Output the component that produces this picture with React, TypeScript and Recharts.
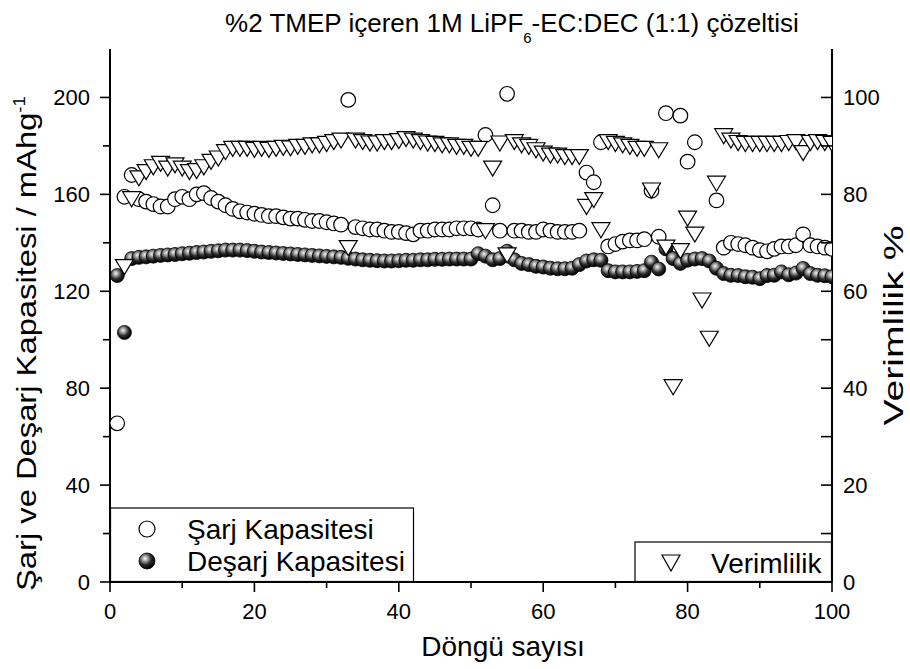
import React from 'react';
import { ComposedChart, Scatter, XAxis, YAxis, Legend, Label } from 'recharts';

const FONT = '"Liberation Sans", Arial, Helvetica, sans-serif';

// Cycle-by-cycle values (cycle 1..100). null = off the plotted range.
const chargeCapacity: (number | null)[] = [
  65.5, 159, 168, 158, 157, 156, 155, 155, 158, 159,
  158, 160, 160.5, 158.5, 157, 155.5, 154, 153, 152.5, 152,
  151.5, 151, 151, 150.5, 150, 150, 149.5, 149, 149, 148.5,
  148, 147.5, 199, 146.5, 146, 145.5, 145.5, 145, 144.5, 144.5,
  144, 143.5, 145, 145, 145.5, 145.5, 145.5, 146, 146, 146,
  145.5, 184.5, 155.5, 145, 201.5, 145, 145, 144.5, 144.5, 145.5,
  145, 144.5, 144.5, 144.5, 145, 169, 165, 181.5, 138.5, 139.5,
  140.5, 141, 141, 141.5, 161.5, 142.5, 193.5, null, 192.5, 173.5,
  181.5, null, null, 157.5, 138, 140, 139.5, 139, 138, 137,
  136.5, 137.5, 138.5, 138.5, 139, 143.5, 139, 138.5, 138, 137.5,
];

const dischargeCapacity: (number | null)[] = [
  126.5, 103, 133.5, 134, 134.2, 134.5, 134.8, 135, 135.2, 135.5,
  135.7, 136, 136.2, 136.5, 136.7, 137, 137, 137, 136.8, 136.5,
  136.2, 136, 135.8, 135.6, 135.4, 135.2, 135, 134.8, 134.6, 134.4,
  134.2, 134, 133.6, 133.3, 133, 132.8, 132.6, 132.5, 132.5, 132.6,
  132.8, 132.8, 133, 133, 133.2, 133.2, 133.3, 133.3, 133.3, 133.3,
  135.5, 134.5, 133, 133.5, 136.5, 133, 131.5, 131, 130.3, 130,
  129.5, 129.3, 129.3, 129.5, 131, 132.5, 133, 132.8, 128.5, 128,
  128, 128, 128.2, 128.5, 132, 129.2, 137.5, 133.5, 131.5, 132.8,
  133.3, 133.5, 132.5, 129.5, 127.3, 126.6, 126.5, 126, 125.8, 125.2,
  126.5, 126.6, 128, 126.8, 127.5, 129.4, 127.3, 126.6, 126.4, 126,
];

const efficiency: (number | null)[] = [
  null, 65, 79, 83.3, 84.6, 85.6, 86.3, 85.3, 86, 85.3,
  84.6, 84.8, 85.6, 86.7, 87.4, 88.7, 89.4, 89.4, 89.4, 89.2,
  89.4, 89.2, 89.4, 89.6, 89.5, 89.8, 89.8, 90.1, 90.1, 90.4,
  90.8, 91.1, 68.9, 91.1, 90.8, 90.5, 90.5, 90.8, 90.8, 91,
  91.4, 91.1, 90.8, 90.5, 90.4, 90.1, 90.1, 89.8, 89.8, 89.4,
  89.4, 72.4, 85.3, 90.5, 67.4, 90.8, 90.1, 89.8, 89.1, 88.4,
  88, 88, 87.7, 87.7, 87.7, 77.4, 78.8, 72.6, 90.8, 90.4,
  90.1, 89.8, 89.4, 89.4, 80.8, 89.1, 69, 40.2, 68.3, 75,
  71.7, 58.1, 50.2, 82.2, 92, 91.1, 90.6, 90.4, 90.4, 90.4,
  90.4, 90.4, 90.4, 90.6, 90.8, 88.5, 90.6, 90.8, 90.6, 90.4,
];

const xTicks = [0, 10, 20, 30, 40, 50, 60, 70, 80, 90, 100];
const leftTicks = [0, 20, 40, 60, 80, 100, 120, 140, 160, 180, 200];
const rightTicks = [0, 10, 20, 30, 40, 50, 60, 70, 80, 90, 100];

const SERIES_CHARGE = 'Şarj Kapasitesi';
const SERIES_DISCHARGE = 'Deşarj Kapasitesi';
const SERIES_EFF = 'Verimlilik';
const LEFT_LEGEND_ORDER = [SERIES_CHARGE, SERIES_DISCHARGE];

const TITLE_MAIN = '%2 TMEP içeren 1M LiPF';
const TITLE_SUB = '6';
const TITLE_REST = '-EC:DEC (1:1) çözeltisi';

const toPoints = (arr: (number | null)[]) =>
  arr.map((v, i) => ({ cycle: i + 1, value: v })).filter((p) => p.value !== null);

const chargeData = toPoints(chargeCapacity);
const dischargeData = toPoints(dischargeCapacity);
const effData = toPoints(efficiency);

const CircleShape = (p: any) => (
  <circle cx={p.cx} cy={p.cy} r={7.3} fill="#fff" stroke="#000" strokeWidth={1.2} />
);
const SphereShape = (p: any) => (
  <circle cx={p.cx} cy={p.cy} r={7} fill="url(#sphereGrad)" stroke="#000" strokeWidth={0.8} />
);
const TriangleShape = (p: any) => (
  <polygon
    points={`${p.cx - 9},${p.cy - 7.5} ${p.cx + 9},${p.cy - 7.5} ${p.cx},${p.cy + 7.5}`}
    fill="#fff"
    stroke="#000"
    strokeWidth={1.2}
  />
);

const tickText = { fontSize: 22, fontFamily: FONT, fill: '#000' };

const BottomTick = (props: any) => {
  const { x, y, payload } = props;
  const major = payload.value % 20 === 0;
  return (
    <g>
      <line x1={x} x2={x} y1={y} y2={y + (major ? 10 : 6)} stroke="#000" strokeWidth={1.6} />
      {major && (
        <text x={x} y={y + 37} textAnchor="middle" {...tickText}>
          {payload.value}
        </text>
      )}
    </g>
  );
};

const LeftTick = (props: any) => {
  const { x, y, payload } = props;
  const major = payload.value % 40 === 0;
  return (
    <g>
      <line x1={x} x2={x - (major ? 10 : 7)} y1={y} y2={y} stroke="#000" strokeWidth={1.6} />
      {major && (
        <text x={x - 20} y={y + 8} textAnchor="end" {...tickText}>
          {payload.value}
        </text>
      )}
    </g>
  );
};

const RightTick = (props: any) => {
  const { x, y, payload } = props;
  const major = payload.value % 20 === 0;
  return (
    <g>
      <line x1={x} x2={x - 11} y1={y} y2={y} stroke="#000" strokeWidth={1.6} />
      {major && (
        <text x={x + 11} y={y + 8} textAnchor="start" {...tickText}>
          {payload.value}
        </text>
      )}
    </g>
  );
};

const XTitle = (props: any) => {
  const vb = props.viewBox || { x: 110, y: 582, width: 722 };
  const cx = vb.x + vb.width / 2 + 32;
  return (
    <text x={cx} y={vb.y + 74} textAnchor="middle" fontSize={28} fontFamily={FONT} fill="#000">
      Döngü sayısı
    </text>
  );
};

const LeftTitle = (props: any) => {
  const vb = props.viewBox || { x: 0, y: 49, width: 110, height: 533 };
  const cx = vb.x + 36;
  const cy = vb.y + vb.height / 2 + 28;
  return (
    <text
      x={cx}
      y={cy}
      transform={`rotate(-90 ${cx} ${cy})`}
      textAnchor="middle"
      fontSize={28}
      fontFamily={FONT}
      fill="#000"
      textLength={495}
      lengthAdjust="spacingAndGlyphs"
    >
      <tspan>Şarj ve Deşarj Kapasitesi / mAhg</tspan>
      <tspan fontSize={16} dy={-11}>-1</tspan>
    </text>
  );
};

const RightTitle = (props: any) => {
  const vb = props.viewBox || { x: 832, y: 49, width: 78, height: 533 };
  const cx = vb.x + 71;
  const cy = vb.y + vb.height / 2 + 10;
  return (
    <text
      x={cx}
      y={cy}
      transform={`rotate(-90 ${cx} ${cy})`}
      textAnchor="middle"
      fontSize={28}
      fontFamily={FONT}
      fill="#000"
      textLength={200}
      lengthAdjust="spacingAndGlyphs"
    >
      Verimlilik %
    </text>
  );
};

const LegendSymbol = ({ name, cx, cy }: { name: string; cx: number; cy: number }) => {
  if (name === SERIES_CHARGE) {
    return <circle cx={cx} cy={cy} r={8} fill="#fff" stroke="#000" strokeWidth={1.2} />;
  }
  if (name === SERIES_DISCHARGE) {
    return <circle cx={cx} cy={cy} r={8} fill="url(#legendSphere)" stroke="#000" strokeWidth={0.8} />;
  }
  return (
    <polygon
      points={`${cx - 9},${cy - 8} ${cx + 9},${cy - 8} ${cx},${cy + 8}`}
      fill="#fff"
      stroke="#000"
      strokeWidth={1.2}
    />
  );
};

const LegendContent = (props: any) => {
  const payload: any[] = props.payload || [];
  const names = payload.map((p) => String(p.value));
  const leftNames = LEFT_LEGEND_ORDER.filter((n) => names.includes(n));
  const rightNames = names.filter((n) => n === SERIES_EFF);
  const rowY = [529, 561];
  const textStyle = { fontSize: 28, fontFamily: FONT, fill: '#000' } as const;
  return (
    <svg width={910} height={669} style={{ position: 'absolute', left: 0, top: 0, pointerEvents: 'none' }}>
      <defs>
        <radialGradient id="legendSphere" cx="0.38" cy="0.35" r="0.65">
          <stop offset="0%" stopColor="#ffffff" />
          <stop offset="22%" stopColor="#b0b0b0" />
          <stop offset="60%" stopColor="#2a2a2a" />
          <stop offset="100%" stopColor="#000000" />
        </radialGradient>
      </defs>
      <text x={512} y={32} textAnchor="middle" fontSize={26} fontFamily={FONT} fill="#000">
        <tspan>{TITLE_MAIN}</tspan>
        <tspan fontSize={15} dy={11}>{TITLE_SUB}</tspan>
        <tspan dy={-11}>{TITLE_REST}</tspan>
      </text>
      <rect x={110.5} y={508} width={303} height={73.5} fill="#fff" stroke="#000" strokeWidth={1.2} />
      {leftNames.map((n, i) => (
        <g key={n}>
          <LegendSymbol name={n} cx={147} cy={rowY[i]} />
          <text x={187} y={rowY[i] + 10} {...textStyle}>
            {n}
          </text>
        </g>
      ))}
      <rect x={635} y={542} width={196.5} height={39.5} fill="#fff" stroke="#000" strokeWidth={1.2} />
      {rightNames.map((n) => (
        <g key={n}>
          <LegendSymbol name={n} cx={671} cy={563} />
          <text x={711} y={573} {...textStyle}>
            {n}
          </text>
        </g>
      ))}
    </svg>
  );
};

export default function App() {
  return (
    <div style={{ position: 'absolute', left: 0, top: 0, width: 910, height: 669, background: '#fff' }}>
      <ComposedChart
        width={910}
        height={669}
        margin={{ top: 49, right: 0, bottom: 0, left: 0 }}
        style={{ fontFamily: FONT }}
      >
        <defs>
          <radialGradient id="sphereGrad" cx="0.4" cy="0.35" r="0.65">
            <stop offset="0%" stopColor="#f2f2f2" />
            <stop offset="25%" stopColor="#a8a8a8" />
            <stop offset="60%" stopColor="#2e2e2e" />
            <stop offset="100%" stopColor="#000000" />
          </radialGradient>
        </defs>
        <XAxis
          xAxisId="x"
          dataKey="cycle"
          type="number"
          domain={[0, 100]}
          ticks={xTicks}
          height={87}
          tickSize={0}
          tickMargin={0}
          tickLine={false}
          tick={<BottomTick />}
          axisLine={{ stroke: '#000', strokeWidth: 2 }}
          allowDataOverflow
          interval={0}
        >
          <Label content={<XTitle />} />
        </XAxis>
        <XAxis
          xAxisId="top"
          orientation="top"
          dataKey="cycle"
          type="number"
          domain={[0, 100]}
          height={0}
          tick={false}
          tickLine={false}
          axisLine={{ stroke: '#000', strokeWidth: 2 }}
          allowDataOverflow
        />
        <YAxis
          yAxisId="left"
          dataKey="value"
          type="number"
          domain={[0, 220]}
          ticks={leftTicks}
          width={110}
          tickSize={0}
          tickMargin={0}
          tickLine={false}
          tick={<LeftTick />}
          axisLine={{ stroke: '#000', strokeWidth: 2 }}
          allowDataOverflow
          interval={0}
        >
          <Label content={<LeftTitle />} />
        </YAxis>
        <YAxis
          yAxisId="right"
          orientation="right"
          dataKey="value"
          type="number"
          domain={[0, 110]}
          ticks={rightTicks}
          width={78}
          tickSize={0}
          tickMargin={0}
          tickLine={false}
          tick={<RightTick />}
          axisLine={{ stroke: '#000', strokeWidth: 2 }}
          allowDataOverflow
          interval={0}
        >
          <Label content={<RightTitle />} />
        </YAxis>
        <Scatter
          name={SERIES_DISCHARGE}
          data={dischargeData}
          dataKey="value"
          xAxisId="x"
          yAxisId="left"
          shape={SphereShape}
          isAnimationActive={false}
        />
        <Scatter
          name={SERIES_CHARGE}
          data={chargeData}
          dataKey="value"
          xAxisId="x"
          yAxisId="left"
          shape={CircleShape}
          isAnimationActive={false}
        />
        <Scatter
          name={SERIES_EFF}
          data={effData}
          dataKey="value"
          xAxisId="x"
          yAxisId="right"
          shape={TriangleShape}
          isAnimationActive={false}
        />
        <Legend
          content={<LegendContent />}
          layout="horizontal"
          verticalAlign="middle"
          align="center"
          wrapperStyle={{ position: 'absolute', left: 0, top: 0, width: 910, height: 669, pointerEvents: 'none' }}
        />
      </ComposedChart>
    </div>
  );
}
